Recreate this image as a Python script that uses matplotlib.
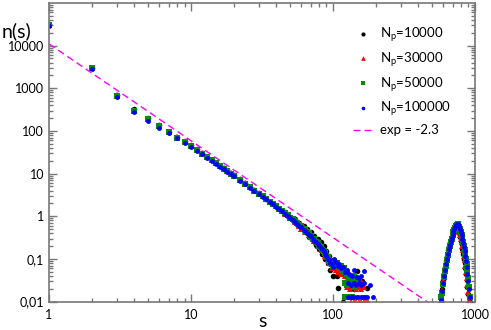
import numpy as np
import matplotlib
matplotlib.use("Agg")
import matplotlib.pyplot as plt
from matplotlib.ticker import LogLocator, NullFormatter

plt.rcParams["font.family"] = ["Lato", "DejaVu Sans"]
plt.rcParams["mathtext.default"] = "regular"

# ---- data ----
s_main = [1, 2, 3, 4, 5, 6, 7, 8, 9, 10, 11, 12, 13, 14, 15, 16, 17, 18, 19, 20,
          22, 24, 26, 28, 30, 32, 34, 36, 38, 40, 42, 44, 46, 48, 50, 52, 54, 56, 58, 60,
          62, 64, 66, 68, 70, 72, 74, 76, 78, 80, 82, 84, 86, 88, 90, 92, 94, 96, 98, 100]

n_10000 = [31500, 3000, 700, 320, 200, 135, 97, 73, 57, 46,
           37, 30.5, 25, 21, 18, 15.5, 13.4, 11.6, 10.3, 9.1,
           7.3, 5.9, 4.9, 4.1, 3.5, 3.0, 2.6, 2.2, 1.9, 1.75,
           1.5, 1.3, 1.25, 1.0, 0.95, 0.82, 0.85, 0.65, 0.7, 0.52,
           0.6, 0.42, 0.5, 0.33, 0.42, 0.28, 0.35, 0.21, 0.3, 0.17,
           0.25, 0.13, 0.2, 0.1, 0.15, 0.08, 0.12, 0.055, 0.09, 0.04]
n_30000 = [31000, 2980, 690, 310, 195, 131, 95, 72, 56, 45,
           36.5, 30, 24.8, 20.8, 17.8, 15.2, 13.2, 11.5, 10.1, 9.0,
           7.2, 5.9, 4.85, 4.05, 3.45, 2.95, 2.5, 2.2, 1.9, 1.7,
           1.5, 1.35, 1.15, 1.05, 0.92, 0.85, 0.72, 0.7, 0.6, 0.5,
           0.55, 0.42, 0.44, 0.36, 0.33, 0.32, 0.26, 0.27, 0.2, 0.22,
           0.17, 0.16, 0.15, 0.12, 0.11, 0.1, 0.08, 0.085, 0.06, 0.065]
n_50000 = [30500, 2930, 670, 300, 190, 128, 93, 70, 55, 44,
           36, 29.5, 24.5, 20.5, 17.5, 15.0, 13.0, 11.4, 10.0, 8.9,
           7.1, 5.8, 4.8, 4.0, 3.4, 2.95, 2.55, 2.2, 1.95, 1.7,
           1.5, 1.3, 1.2, 1.05, 0.9, 0.88, 0.76, 0.7, 0.62, 0.58,
           0.5, 0.47, 0.42, 0.4, 0.35, 0.3, 0.3, 0.25, 0.24, 0.2,
           0.19, 0.16, 0.15, 0.14, 0.12, 0.11, 0.09, 0.085, 0.075, 0.07]
n_100000 = [29500, 2850, 630, 275, 170, 120, 88, 67, 52, 42,
            34.5, 28.5, 23.5, 19.8, 17.0, 14.6, 12.7, 11.1, 9.8, 8.7,
            6.9, 5.65, 4.7, 3.95, 3.35, 2.9, 2.5, 2.15, 1.9, 1.65,
            1.48, 1.3, 1.15, 1.02, 0.92, 0.82, 0.74, 0.66, 0.6, 0.55,
            0.48, 0.45, 0.4, 0.36, 0.34, 0.3, 0.27, 0.25, 0.22, 0.2,
            0.18, 0.17, 0.15, 0.13, 0.12, 0.1, 0.095, 0.08, 0.075, 0.065]

# tails beyond s=100 (discrete low levels)
tail_s_10000 = [103, 106, 109, 112, 117, 122, 131, 140, 148, 160, 173]
tail_n_10000 = [0.07, 0.04, 0.021, 0.05, 0.0096, 0.04, 0.032, 0.02, 0.053, 0.03, 0.021]
tail_s_30000 = [102, 105, 109, 113, 118, 121, 128, 132, 136, 140, 144, 150, 155, 158,
                126, 132, 138, 145, 152, 158, 164,
                134, 140, 146, 152, 158, 164, 170, 176]
tail_n_30000 = [0.07, 0.055, 0.05, 0.045, 0.05, 0.04, 0.035, 0.033, 0.035, 0.03, 0.033, 0.03, 0.033, 0.03,
                0.022, 0.02, 0.022, 0.02, 0.022, 0.02, 0.022,
                0.01, 0.01, 0.01, 0.01, 0.01, 0.01, 0.01, 0.01]
tail_s_50000 = [102, 104, 107, 110, 113, 116, 119, 122, 126, 130, 135, 140, 145,
                122, 126, 130, 135, 140,
                121, 125, 129, 133, 137]
tail_n_50000 = [0.09, 0.075, 0.08, 0.065, 0.07, 0.055, 0.06, 0.05, 0.045, 0.04, 0.035, 0.04, 0.03,
                0.028, 0.025, 0.028, 0.025, 0.022,
                0.0125, 0.0125, 0.0125, 0.0125, 0.0125]
tail_s_100000 = [102, 105, 108, 111, 114, 118, 122, 126, 130, 135, 141, 147, 152, 158, 166,
                 128, 134, 140, 146, 152, 158, 164, 181,
                 127, 133, 139, 145, 151, 157, 163, 169, 174, 192]
tail_n_100000 = [0.1, 0.085, 0.07, 0.075, 0.06, 0.065, 0.05, 0.055, 0.045, 0.04, 0.054, 0.038, 0.035, 0.04, 0.053,
                 0.028, 0.025, 0.028, 0.025, 0.028, 0.025, 0.028, 0.025,
                 0.0125, 0.0125, 0.0125, 0.0125, 0.0125, 0.0125, 0.0125, 0.0125, 0.0125, 0.0125]

# peak of large clusters
peak_s = [575, 585, 595, 605, 615, 625, 635, 645, 655, 665, 675, 685, 695, 705, 715, 725, 735, 745,
          755, 765, 775, 785, 795, 805, 815, 825, 835, 845, 855, 865, 875, 885, 895, 905, 915]
peak_10000 = [0.01, 0.02, 0.032, 0.048, 0.065, 0.09, 0.12, 0.16, 0.2, 0.25, 0.3, 0.35, 0.4, 0.45, 0.5, 0.54, 0.56, 0.55,
              0.5, 0.45, 0.4, 0.33, 0.27, 0.22, 0.17, 0.13, 0.1, 0.08, 0.06, 0.045, 0.032, 0.022, 0.015, 0.01, 0.01]
peak_30000 = [0.01, 0.019, 0.03, 0.045, 0.062, 0.085, 0.11, 0.15, 0.19, 0.24, 0.29, 0.34, 0.4, 0.46, 0.52, 0.57, 0.6, 0.6,
              0.56, 0.5, 0.44, 0.37, 0.3, 0.25, 0.2, 0.16, 0.12, 0.095, 0.07, 0.05, 0.036, 0.025, 0.017, 0.01, 0.01]
peak_50000 = [0.0125, 0.016, 0.026, 0.038, 0.052, 0.07, 0.095, 0.125, 0.16, 0.2, 0.25, 0.3, 0.36, 0.42, 0.48, 0.54, 0.6, 0.64,
              0.65, 0.62, 0.57, 0.5, 0.43, 0.36, 0.3, 0.25, 0.2, 0.16, 0.13, 0.1, 0.075, 0.052, 0.035, 0.022, 0.0125]
peak_100000 = [0.011, 0.018, 0.028, 0.04, 0.055, 0.075, 0.1, 0.13, 0.17, 0.21, 0.26, 0.31, 0.37, 0.43, 0.5, 0.56, 0.62, 0.66,
               0.67, 0.64, 0.58, 0.5, 0.43, 0.36, 0.3, 0.24, 0.19, 0.15, 0.12, 0.09, 0.065, 0.045, 0.03, 0.02, 0.0125]

# fitted power law guide (two end points)
fit_s = [1, 1000]
fit_n = [11000, 0.0017]

yticks = [0.01, 0.1, 1, 10, 100, 1000, 10000]
ytick_labels = ["0,01", "0,1", "1", "10", "100", "1000", "10000"]
xticks = [1, 10, 100, 1000]
xtick_labels = ["1", "10", "100", "1000"]

# ---- figure ----
fig = plt.figure(figsize=(4.91, 3.30), dpi=100)
ax = fig.add_axes([0.0998, 0.086, 0.8676, 0.905])

series = [
    (s_main, n_10000, tail_s_10000, tail_n_10000, peak_10000, "o", "black", 4.0, "N$_p$=10000"),
    (s_main, n_30000, tail_s_30000, tail_n_30000, peak_30000, "^", "#ff0000", 4.5, "N$_p$=30000"),
    (s_main, n_50000, tail_s_50000, tail_n_50000, peak_50000, "s", "#0a8a0a", 3.8, "N$_p$=50000"),
    (s_main, n_100000, tail_s_100000, tail_n_100000, peak_100000, "o", "#0000ff", 3.5, "N$_p$=100000"),
]
for s, n, ts, tn, pn, m, c, ms, lab in series:
    xs = list(s) + list(ts) + list(peak_s)
    ys = list(n) + list(tn) + list(pn)
    ax.plot(xs, ys, linestyle="none", marker=m, color=c, markersize=ms,
            markeredgewidth=0, label=lab)

ax.plot(fit_s, fit_n, color="#ff00ff", lw=1.0, dashes=(5, 3), label="exp = -2.3")

ax.set_xscale("log")
ax.set_yscale("log")
ax.set_xlim(1, 1000)
ax.set_ylim(0.01, 100000)

ax.set_xticks(xticks, xtick_labels)
ax.set_yticks(yticks, ytick_labels)
ax.xaxis.set_minor_locator(LogLocator(base=10, subs=np.arange(2, 10)))
ax.yaxis.set_minor_locator(LogLocator(base=10, subs=np.arange(2, 10)))
ax.xaxis.set_minor_formatter(NullFormatter())
ax.yaxis.set_minor_formatter(NullFormatter())

ax.tick_params(which="both", direction="in", top=True, right=True, color="#777777",
               width=1.0, labelsize=9)
ax.tick_params(which="major", length=6)
ax.tick_params(which="minor", length=3)
ax.tick_params(axis="x", pad=5)
for sp in ax.spines.values():
    sp.set_color("#777777")
    sp.set_linewidth(1.2)

fig.text(0.033, 0.905, "n(s)", fontsize=14, ha="center", va="center")
fig.text(0.534, 0.025, "s", fontsize=14, ha="center", va="center")

ax.legend(loc="upper right", bbox_to_anchor=(0.965, 0.955), frameon=False, fontsize=9.5,
          markerscale=0.75, handlelength=1.4, handletextpad=0.6, labelspacing=0.45,
          borderpad=0.2)

fig.savefig("out.png", dpi=100)
